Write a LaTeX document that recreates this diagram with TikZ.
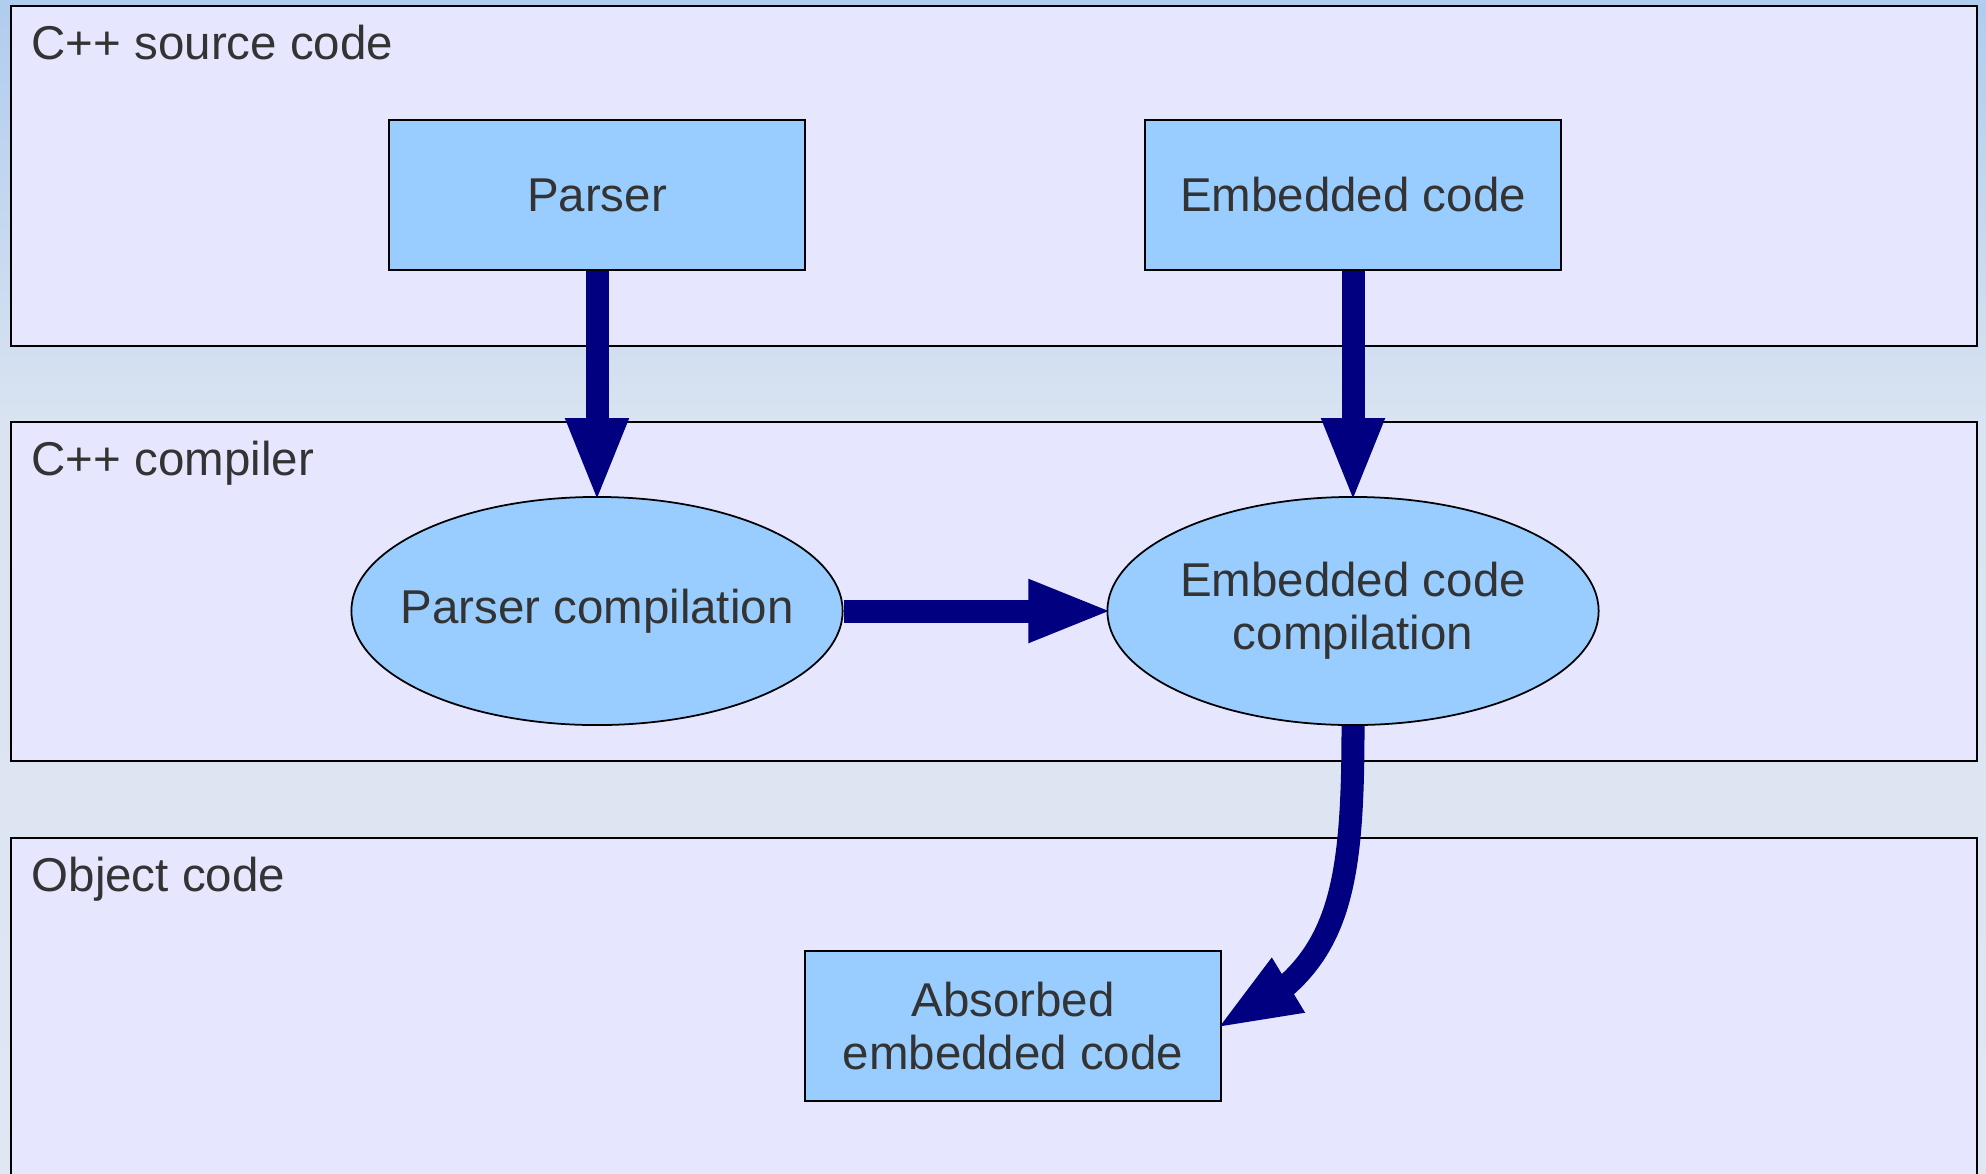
\documentclass[tikz,border=0pt]{standalone}
\usepackage{fontspec}
\setmainfont{Liberation Sans}
\usetikzlibrary{arrows.meta,shapes.geometric,bending}

\definecolor{bgtop}{HTML}{B0CCEE}
\definecolor{bgmid}{HTML}{D9E3F1}
\definecolor{bgbot}{HTML}{E1E6F3}
\definecolor{panelfill}{HTML}{E6E6FF}
\definecolor{boxfill}{HTML}{99CCFF}
\definecolor{navy}{HTML}{000080}
\definecolor{txtgray}{HTML}{333333}

\begin{document}
\begin{tikzpicture}[
  x=0.01cm, y=-0.01cm,
  every node/.style={font=\fontsize{13.5}{15}\selectfont, text=txtgray},
  panel/.style={draw=black, line width=0.6pt, fill=panelfill},
  paneltitle/.style={anchor=base west, inner sep=0pt},
  block/.style={draw, line width=0.5pt, fill=boxfill, align=center,
                minimum width=4.16cm, minimum height=1.5cm, inner sep=0pt},
  oval/.style={ellipse, draw, line width=0.5pt, fill=boxfill, align=center,
               minimum width=4.91cm, minimum height=2.28cm,
               inner xsep=-0.24cm, inner ysep=0pt},
  flow/.style={-{Triangle[width=0.57cm, length=0.85cm]}, line width=0.23cm,
               draw=navy, shorten >=-0.07cm},
]
\useasboundingbox (0,0) rectangle (1986,1173);
\clip (0,0) rectangle (1986,1173);

% background
\shade[top color=bgtop, bottom color=bgmid] (0,0) rectangle (1986,420);
\shade[top color=bgmid, bottom color=bgbot] (0,420) rectangle (1986,1173);

% layers
\draw[panel] (11,6) rectangle (1977,346);
\draw[panel] (11,422) rectangle (1977,761);
\draw[panel] (11,838) rectangle (1977,1200);

\node[paneltitle] (srctitle) at (31,60) {C++ source code};
\node[paneltitle] (cctitle) at (31,475) {C++ compiler};
\node[paneltitle] (objtitle) at (31,891) {Object code};

% source code
\node[block] (parser) at (597,195) {Parser};
\node[block] (embedded) at (1353,195) {Embedded code};

% compiler
\node[oval] (pcomp) at (597,611) {Parser compilation};
\node[oval] (ecomp) at (1353,611) {Embedded code\\compilation};

% object code
\node[block] (absorbed) at (1013,1026) {Absorbed\\embedded code};

\draw[flow] (parser) -- (pcomp);
\draw[flow] (embedded) -- (ecomp);
\draw[flow] (pcomp) -- (ecomp);
\draw[flow] (ecomp.south) .. controls (1353,900) and (1338,972) .. (absorbed.east);
\end{tikzpicture}
\end{document}
